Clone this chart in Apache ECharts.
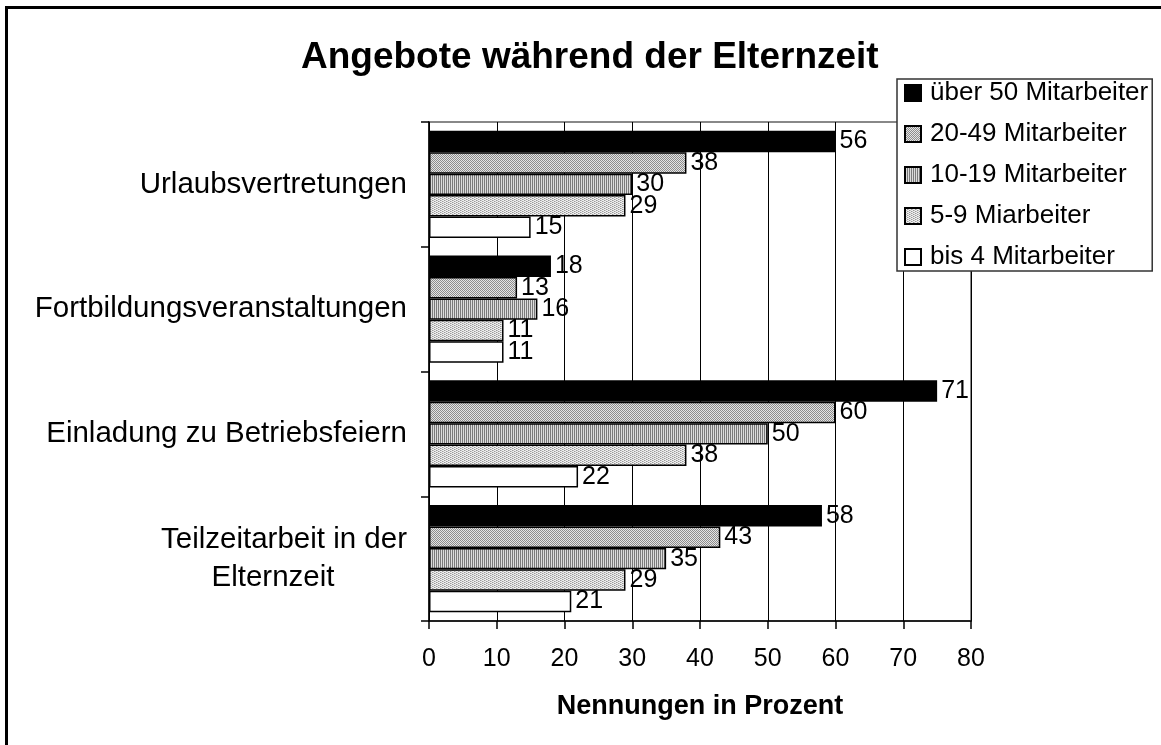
<!DOCTYPE html>
<html>
<head>
<meta charset="utf-8">
<script src="https://cdn.jsdelivr.net/npm/echarts@6/dist/echarts.min.js"></script>
<style>
html, body { margin: 0; padding: 0; background: #fff; }
#main { width: 1161px; height: 745px; }
</style>
</head>
<body>
<div id="main"></div>
<script>
var categories = ['Urlaubsvertretungen', 'Fortbildungsveranstaltungen', 'Einladung zu Betriebsfeiern', 'Teilzeitarbeit in der Elternzeit'];
var seriesNames = ['über 50 Mitarbeiter', '20-49 Mitarbeiter', '10-19 Mitarbeiter', '5-9 Miarbeiter', 'bis 4 Mitarbeiter'];
// bar lengths as drawn in the picture
var over50 = [60, 18, 75, 58];
var from20 = [38, 13, 60, 43];
var from10 = [30, 16, 50, 35];
var from5 = [29, 11, 38, 29];
var upto4 = [15, 11, 22, 21];
// printed value labels (the two longest black bars carry smaller numbers)
var over50Labels = [56, 18, 71, 58];
var xTicks = [0, 10, 20, 30, 40, 50, 60, 70, 80];

var font = '"Liberation Sans", Arial, sans-serif';

// small tiles for the hatched fills
function tile(w, h, draw) {
    var c = document.createElement('canvas');
    c.width = w;
    c.height = h;
    var ctx = c.getContext('2d');
    draw(ctx);
    return { image: c, repeat: 'repeat' };
}
var dotsDark = tile(2, 2, function (ctx) {
    ctx.fillStyle = '#e4e4e4'; ctx.fillRect(0, 0, 2, 2);
    ctx.fillStyle = '#8c8c8c'; ctx.fillRect(0, 0, 1, 1); ctx.fillRect(1, 1, 1, 1);
});
var stripes = tile(2, 2, function (ctx) {
    ctx.fillStyle = '#dcdcdc'; ctx.fillRect(0, 0, 2, 2);
    ctx.fillStyle = '#7a7a7a'; ctx.fillRect(0, 0, 1, 2);
});
var dotsLight = tile(4, 2, function (ctx) {
    ctx.fillStyle = '#efefef'; ctx.fillRect(0, 0, 4, 2);
    ctx.fillStyle = '#9a9a9a'; ctx.fillRect(0, 0, 1, 1); ctx.fillRect(2, 1, 1, 1);
    ctx.fillStyle = '#c4c4c4'; ctx.fillRect(1, 0, 1, 1); ctx.fillRect(3, 1, 1, 1);
});
var fills = ['#000', dotsDark, stripes, dotsLight, '#fff'];
var values = [over50, from20, from10, from5, upto4];
var labelTexts = [over50Labels, from20, from10, from5, upto4];

var series = seriesNames.map(function (name, i) {
    return {
        name: name,
        type: 'bar',
        barGap: '0%',
        barCategoryGap: '14%',
        data: values[i],
        itemStyle: { color: fills[i], borderColor: '#000', borderWidth: 1.5 },
        label: {
            show: true,
            position: 'right',
            distance: 4,
            color: '#000',
            fontFamily: font,
            fontSize: 25,
            formatter: function (p) {
                return String(labelTexts[i][p.dataIndex]);
            }
        }
    };
});

var chart = echarts.init(document.getElementById('main'));
chart.setOption({
    animation: false,
    backgroundColor: '#fff',
    title: {
        text: 'Angebote während der Elternzeit',
        left: 296,
        top: 34,
        textStyle: { fontFamily: font, fontSize: 37, fontWeight: 'bold', color: '#000' }
    },
    legend: {
        orient: 'vertical',
        left: 897,
        top: 79,
        padding: [1, 4, 1, 7],
        itemWidth: 16,
        itemHeight: 16,
        itemGap: 15,
        icon: 'rect',
        backgroundColor: '#fff',
        borderColor: '#333',
        borderWidth: 1.5,
        borderRadius: 0,
        textStyle: { fontFamily: font, fontSize: 26, lineHeight: 26, color: '#000', padding: [0, 0, 0, 4] },
        data: seriesNames
    },
    grid: {
        left: 429,
        right: 190,
        top: 122,
        bottom: 124,
        show: true,
        borderColor: '#888',
        borderWidth: 2,
        backgroundColor: 'transparent'
    },
    xAxis: {
        type: 'value',
        min: xTicks[0],
        max: xTicks[xTicks.length - 1],
        interval: 10,
        name: 'Nennungen in Prozent',
        nameLocation: 'middle',
        nameGap: 72,
        nameTextStyle: { fontFamily: font, fontSize: 27, fontWeight: 'bold', color: '#000' },
        axisLine: { show: true, lineStyle: { color: '#000', width: 1.5 } },
        axisTick: { show: true, length: 8, lineStyle: { color: '#000', width: 1.5 } },
        axisLabel: { fontFamily: font, fontSize: 25, color: '#000', margin: 26 },
        splitLine: { show: true, lineStyle: { color: '#000', width: 1 } }
    },
    yAxis: {
        type: 'category',
        inverse: true,
        data: categories,
        axisLine: { show: true, lineStyle: { color: '#000', width: 1.5 } },
        axisTick: { show: true, length: 8, lineStyle: { color: '#000', width: 1.5 } },
        axisLabel: {
            fontFamily: font,
            fontSize: 29.5,
            color: '#000',
            margin: 22,
            formatter: function (v) {
                if (v === 'Teilzeitarbeit in der Elternzeit') {
                    return '{c|Teilzeitarbeit in der}\n{d|Elternzeit}';
                }
                return v;
            },
            rich: {
                c: { fontFamily: font, fontSize: 29.5, color: '#000', align: 'center', lineHeight: 38 },
                d: { fontFamily: font, fontSize: 29.5, color: '#000', align: 'center', lineHeight: 38, padding: [0, 22, 0, 0] }
            }
        },
        splitLine: { show: false }
    },
    graphic: [
        { type: 'rect', shape: { x: 5, y: 6, width: 1160, height: 3 }, style: { fill: '#000' }, silent: true },
        { type: 'rect', shape: { x: 5, y: 6, width: 3, height: 745 }, style: { fill: '#000' }, silent: true }
    ],
    series: series
});
</script>
</body>
</html>
